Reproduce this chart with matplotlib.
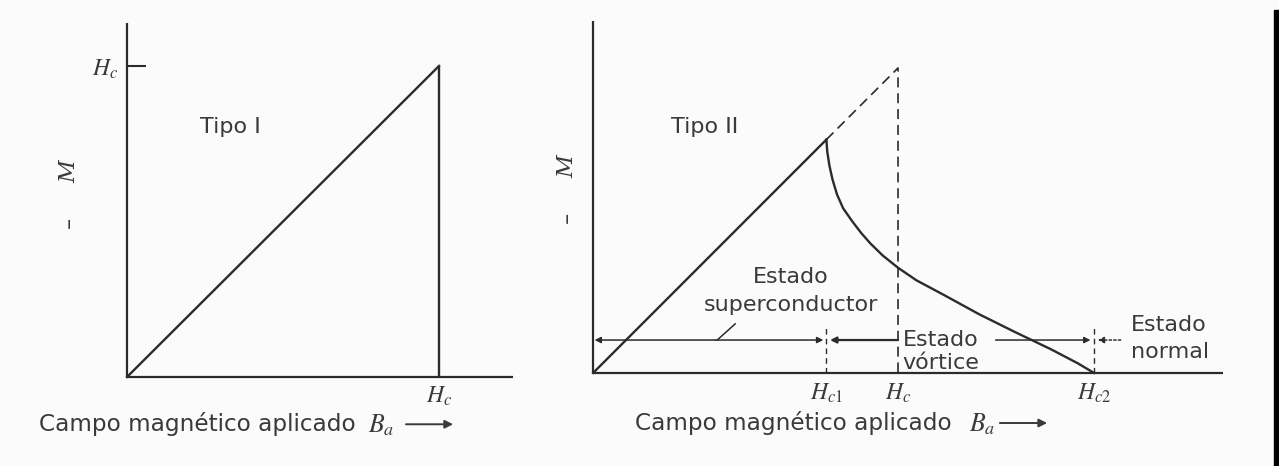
import numpy as np
import matplotlib.pyplot as plt
from matplotlib.patches import Rectangle

plt.rcParams['font.family'] = ['DejaVu Sans']
plt.rcParams['mathtext.fontset'] = 'stix'

INK = '#2b2b2b'
TXT = '#3a3a3a'
FS = 16

# fields in units of the bulk critical field Hc
Hc = 1.0
Hc1 = 0.765
Hc2 = 1.643

# Tipo I: -M grows linearly until Hc, then drops to zero
type1_B = [0.0, Hc]
type1_M = [0.0, Hc]

# Tipo II: Meissner ramp up to Hc1, then the vortex branch down to Hc2
ramp_B = [0.0, Hc1]
ramp_M = [0.0, Hc1]
vortex_B = [0.765, 0.768, 0.775, 0.785, 0.80, 0.82, 0.85, 0.88, 0.91,
            0.95, 1.0, 1.06, 1.15, 1.267, 1.384, 1.501, 1.589, 1.643]
vortex_M = [0.765, 0.725, 0.68, 0.635, 0.585, 0.54, 0.497, 0.458, 0.424,
            0.385, 0.345, 0.304, 0.256, 0.192, 0.134, 0.078, 0.032, 0.0]

# height of the state bar in the Tipo II panel
band_y = 0.108

fig = plt.figure(figsize=(12.79, 4.66), dpi=100)
fig.patch.set_facecolor('#fbfbfb')

ax1 = fig.add_axes([0.0993, 0.1910, 0.3018, 0.7597])
ax2 = fig.add_axes([0.4637, 0.1996, 0.4926, 0.7554])

for ax in (ax1, ax2):
    ax.set_facecolor('none')
    ax.spines['top'].set_visible(False)
    ax.spines['right'].set_visible(False)
    for s in ('left', 'bottom'):
        ax.spines[s].set_color(INK)
        ax.spines[s].set_linewidth(1.6)
        ax.spines[s].set_capstyle('butt')

ax1.set_xlim(0, 1.237)
ax1.set_ylim(0, 1.138)
ax2.set_xlim(0, 2.066)
ax2.set_ylim(0, 1.154)


def field_label(ax, x0, xb, xa, y):
    """'Campo magnético aplicado  B_a -->' under a panel."""
    ax.text(x0, y, 'Campo magnético aplicado', fontsize=16.7, color=TXT,
            va='center', clip_on=False)
    ax.text(xb, y - 0.004, '$B_a$', fontsize=18.5, color=TXT, va='center',
            clip_on=False)
    ax.annotate('', xy=(xa[1], y), xytext=(xa[0], y),
                arrowprops=dict(arrowstyle='-|>', color=TXT, lw=1.4,
                                mutation_scale=12, shrinkA=0, shrinkB=0),
                annotation_clip=False)


# ---- Tipo I ----
ax1.plot(type1_B, type1_M, color=INK, lw=1.7, clip_on=False)
ax1.vlines(Hc, 0, Hc, color=INK, lw=1.7)

ax1.set_yticks([Hc])
ax1.set_yticklabels(['$H_c$'])
ax1.tick_params(axis='y', direction='in', length=14, width=1.5,
                color=INK, pad=6, labelsize=17, labelcolor=TXT)
ax1.set_xticks([Hc])
ax1.set_xticklabels(['$H_c$'])
ax1.tick_params(axis='x', length=0, pad=5, labelsize=17, labelcolor=TXT)

ax1.text(0.234, 0.804, 'Tipo I', fontsize=FS, color=TXT, va='center')
ax1.text(-0.186, 0.659, 'M', fontsize=FS, color=TXT, rotation=90,
         ha='center', va='center', family='DejaVu Serif', style='italic')
ax1.text(-0.186, 0.498, '\u2013', fontsize=FS, color=TXT, rotation=90,
         ha='center', va='center')
field_label(ax1, -0.282, 0.772, (0.894, 1.045), -0.152)

# ---- Tipo II ----
ax2.plot(ramp_B, ramp_M, color=INK, lw=1.7, clip_on=False)
ax2.plot(vortex_B, vortex_M, color=INK, lw=1.7, clip_on=False)
ax2.plot([Hc1, Hc, Hc], [Hc1, Hc, 0], color=INK, lw=1.2,
         ls=(0, (6, 3.5)))
ax2.vlines([Hc1], 0, 0.15, color=INK, lw=1.0, ls=(0, (4, 3)))
ax2.vlines([Hc2], 0, 0.157, color=INK, lw=1.0, ls=(0, (4, 3)))

ax2.set_xticks([Hc1, Hc, Hc2])
ax2.set_xticklabels(['$H_{c1}$', '$H_c$', '$H_{c2}$'])
ax2.tick_params(axis='x', length=0, pad=6, labelsize=17, labelcolor=TXT)
ax2.set_yticks([])

arrow = dict(arrowstyle='-|>', color=INK, lw=1.1, mutation_scale=9,
             shrinkA=0, shrinkB=0)
# superconducting range 0..Hc1
ax2.annotate('', xy=(0.005, band_y), xytext=(0.4, band_y), arrowprops=arrow)
ax2.annotate('', xy=(Hc1 - 0.01, band_y), xytext=(0.4, band_y),
             arrowprops=arrow)
# vortex range Hc1..Hc2
ax2.annotate('', xy=(Hc1 + 0.012, band_y), xytext=(Hc, band_y),
             arrowprops=dict(arrow, lw=1.6))
ax2.annotate('', xy=(Hc2 - 0.012, band_y), xytext=(1.32, band_y),
             arrowprops=arrow)
# normal range beyond Hc2
ax2.annotate('', xy=(Hc2 + 0.012, band_y), xytext=(1.73, band_y),
             arrowprops=dict(arrow, ls=(0, (1.5, 1.5))))
# pointer to the superconducting bar
ax2.plot([0.407, 0.466], [band_y, 0.161], color=INK, lw=1.1)

ax2.text(0.256, 0.807, 'Tipo II', fontsize=FS, color=TXT, va='center')
ax2.text(0.648, 0.315, 'Estado', fontsize=FS, color=TXT,
         ha='center', va='center')
ax2.text(0.648, 0.223, 'superconductor', fontsize=FS, color=TXT,
         ha='center', va='center')
ax2.text(1.015, band_y, 'Estado', fontsize=FS, color=TXT, va='center')
ax2.text(1.015, 0.033, 'vórtice', fontsize=FS, color=TXT, va='center')
ax2.text(1.764, 0.157, 'Estado', fontsize=FS, color=TXT, va='center')
ax2.text(1.764, 0.069, 'normal', fontsize=FS, color=TXT, va='center')

ax2.text(-0.085, 0.675, 'M', fontsize=FS, color=TXT, rotation=90,
         ha='center', va='center', family='DejaVu Serif', style='italic')
ax2.text(-0.085, 0.511, '\u2013', fontsize=FS, color=TXT, rotation=90,
         ha='center', va='center')
field_label(ax2, 0.138, 1.232, (1.334, 1.489), -0.164)

# dark page edge on the right
fig.patches.append(Rectangle((1274 / 1279, 0), 5 / 1279, 456 / 466,
                             transform=fig.transFigure, color='black'))

fig.savefig('out.png', dpi=100, facecolor=fig.get_facecolor())
